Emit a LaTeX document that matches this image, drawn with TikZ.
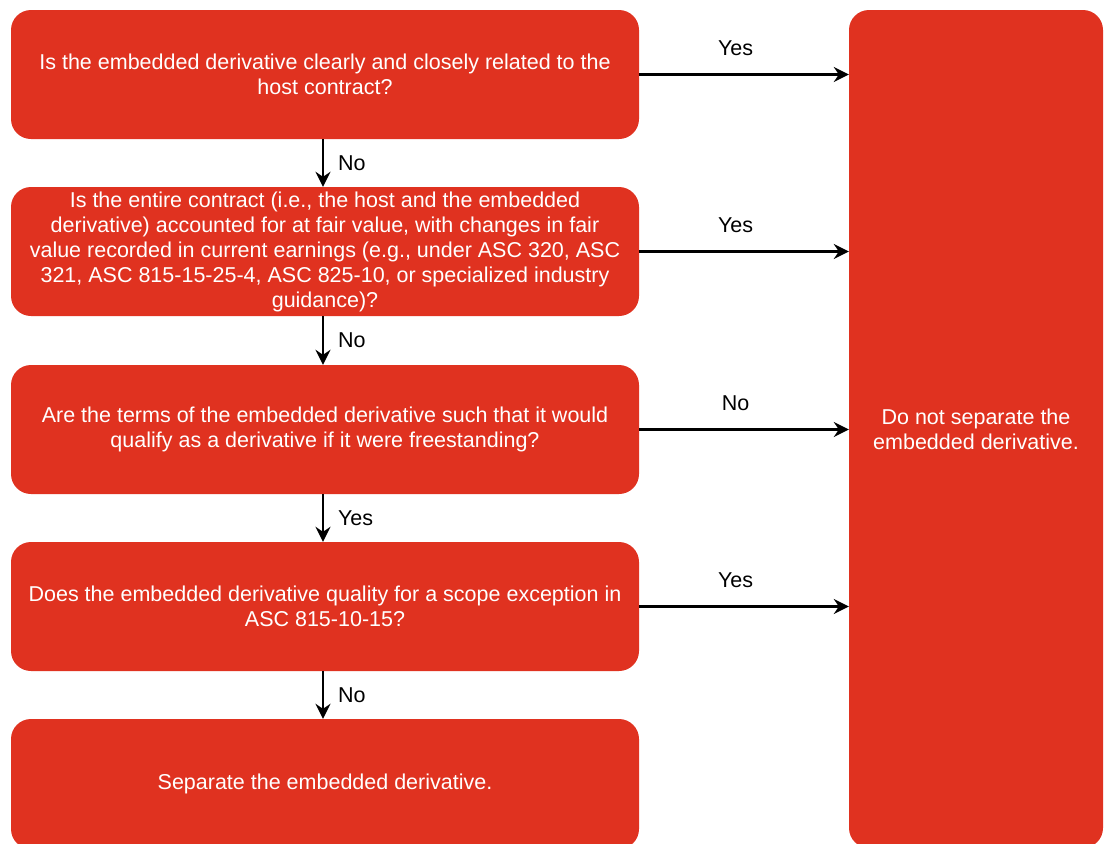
\documentclass[tikz,border=0pt]{standalone}
\usepackage{fontspec}
\setmainfont{Liberation Sans}
\usetikzlibrary{arrows.meta}
\definecolor{boxred}{HTML}{E03220}
\begin{document}
\begin{tikzpicture}[x=1pt,y=-1pt,
  box/.style={fill=boxred,draw=none,rounded corners=20pt,text=white,align=center,
    font=\fontsize{21.5}{25}\selectfont,inner sep=0pt},
  qbox/.style={box,minimum width=628pt,minimum height=129pt},
  arr/.style={line width=2.2pt,-{Stealth[length=15pt,width=15pt,inset=5pt]}},
  lbl/.style={font=\fontsize{21.5}{25}\selectfont,text=black,inner sep=0pt}]
\useasboundingbox (0,0) rectangle (1104,844);
\node[qbox] (b1) at (325,74.5) {Is the embedded derivative clearly and closely related to the\\host contract?};
\node[qbox] (b2) at (325,251.5) {Is the entire contract (i.e., the host and the embedded\\derivative) accounted for at fair value, with changes in fair\\value recorded in current earnings (e.g., under ASC 320, ASC\\321, ASC 815-15-25-4, ASC 825-10, or specialized industry\\guidance)?};
\node[qbox] (b3) at (325,429.5) {Are the terms of the embedded derivative such that it would\\qualify as a derivative if it were freestanding?};
\node[qbox] (b4) at (325,606.5) {Does the embedded derivative quality for a scope exception in\\ASC 815-10-15?};
\node[box,minimum width=628pt,minimum height=130pt] (b5) at (325,784) {Separate the embedded derivative.};
\node[box,minimum width=254pt,minimum height=838pt] (r) at (976,429) {Do not separate the\\embedded derivative.};
\foreach \b/\t in {b1/Yes,b2/Yes,b3/No,b4/Yes}{
  \draw[arr] (\b.east) -- node[lbl,above=18pt,pos=0.46]{\t} (\b.east -| r.west);
}
\draw[arr] ([xshift=-2pt]b1.south) -- node[lbl,right=14pt]{No} ([xshift=-2pt]b2.north);
\draw[arr] ([xshift=-2pt]b2.south) -- node[lbl,right=14pt]{No} ([xshift=-2pt]b3.north);
\draw[arr] ([xshift=-2pt]b3.south) -- node[lbl,right=14pt]{Yes} ([xshift=-2pt]b4.north);
\draw[arr] ([xshift=-2pt]b4.south) -- node[lbl,right=14pt]{No} ([xshift=-2pt]b5.north);
\end{tikzpicture}
\end{document}
